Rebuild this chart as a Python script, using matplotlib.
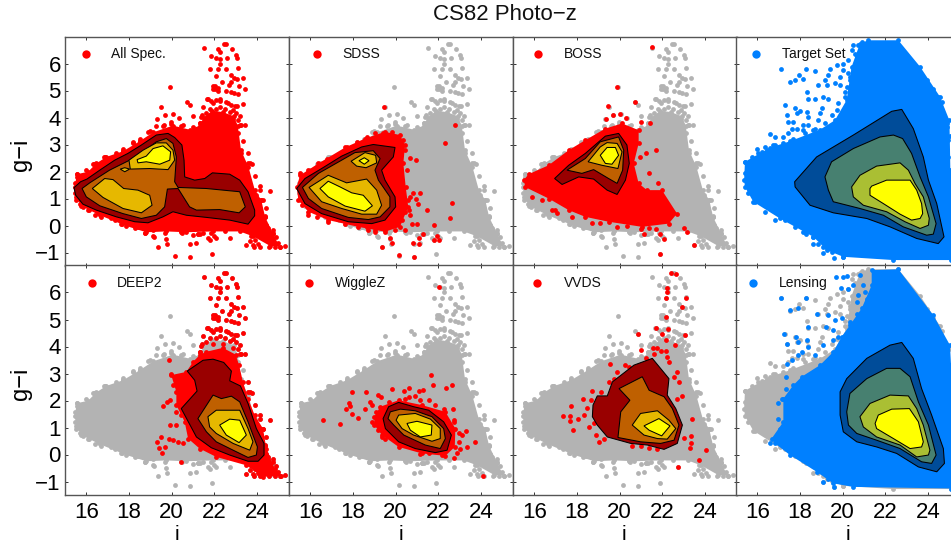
#!/usr/bin/env python
# -*- coding: utf-8 -*-

import matplotlib
matplotlib.use("Agg")
import matplotlib.pyplot as plt

plt.rcParams['font.family'] = ['Liberation Sans', 'DejaVu Sans']

# Outline of the full spectroscopic sample (i, g-i)
all_outline = [(15.45,1.43),(15.56,1.90),(16.08,1.99),(16.47,2.30),(16.94,2.54),(17.72,2.75),(18.5,3.12),
    (19.13,3.45),(20.06,3.70),(20.84,3.55),(21.31,3.70),(21.5,4.0),(21.9,4.25),(22.4,4.2),(22.9,4.05),(23.1,3.7),
    (23.25,2.79),(23.6,2.17),(23.9,1.31),(24.2,0.94),(24.38,0.32),(24.75,-0.30),(25.06,-0.79),(24.6,-0.75),
    (23.81,-0.40),(23.19,-0.22),(21.94,-0.22),(20.69,-0.25),(19.75,-0.22),(18.81,-0.25),(17.88,-0.02),
    (16.63,0.38),(15.84,0.69),(15.53,1.06)]

# Stragglers of the full sample
all_points = [(21.52,6.59),(22.44,6.74),(22.56,6.72),(22.83,6.52),(22.17,6.54),(22.27,6.43),(21.86,6.28),
    (22.06,6.22),(22.25,6.17),(22.61,6.19),(23.0,6.31),(23.06,6.19),(22.25,6.0),(21.78,5.78),(22.17,5.78),
    (22.53,5.78),(23.09,5.83),(22.09,5.53),(22.78,5.56),(22.92,5.48),(23.06,5.41),(23.33,5.48),(22.38,5.32),
    (22.78,5.32),(22.67,5.2),(23.16,5.16),(23.42,5.07),(21.94,5.16),(22.02,5.07),(22.17,5.11),(22.53,4.99),
    (22.8,4.95),(22.92,4.89),(23.09,4.86),(19.91,5.12),(20.73,4.58),(20.88,4.46),(19.48,4.38),(19.7,4.1),
    (20.05,4.12),(20.33,3.99),(21.02,4.05),(19.31,3.95),(23.33,4.49),(23.42,3.72),(23.58,2.67),(23.77,2.27),
    (24.14,1.47),(24.61,1.27),(24.75,-0.17),(24.91,-0.44),(24.56,-0.81),(25.06,-0.79),(23.5,-0.73),(23.66,-0.57),
    (23.84,-0.79),(24.13,-0.79),(19.34,-0.81),(19.75,-0.49),(19.8,-0.67),(20.14,-1.12),(20.86,-1.16),(21.91,-1.06),
    (20.84,-0.67),(21.16,-0.64),(19.16,-0.42),(18.73,-0.27),(20.45,-0.23),(21.31,-0.32),(22.72,-0.46),(22.06,-0.48),
    (21.78,-0.52),(21.0,-0.36),(17.67,0.07),(17.33,0.2),(16.7,0.32),(16.39,0.38),(16.13,0.57),(15.69,0.94),
    (15.56,1.80),(16.36,2.26),(16.86,2.54),(17.72,2.83),(18.19,3.06),(18.5,3.2),(18.89,3.47),(19.59,3.68),
    (19.98,3.75),(20.53,3.72),(21.31,3.78),(23.58,2.33),(23.97,1.12),(24.2,0.94),(24.36,0.32),(24.44,0.01),
    (23.97,-0.05),(23.81,-0.30),(24.44,-0.42),(24.13,-0.3),(19.75,-0.17),(19.13,-0.17),(18.42,-0.05)]

# Bumps along the rim of the full sample
all_edge = [(15.58,1.89),(15.48,1.58),(15.45,1.21),(15.53,0.96),(15.69,0.78),(16.0,2.07),(16.31,2.26),(16.83,2.53),(17.41,2.67),
    (17.72,2.75),(18.19,3.09),(18.5,3.12),(18.97,3.49),(19.28,3.68),(19.64,3.74),(19.98,3.83),(20.45,3.68),(21.0,3.65),(21.31,3.80),
    (21.42,4.11),(21.66,4.67),(21.86,4.6),(22.25,4.6),(22.64,4.54),(22.95,4.42),(23.19,4.05),(23.27,3.74),(23.11,3.43),(23.34,3.12),
    (23.27,2.69),(23.66,2.32),(23.89,1.83),(24.13,1.33),(24.28,0.96),(24.44,0.65),(24.36,0.35),(24.52,-0.09),(24.75,-0.27),(24.98,-0.64),
    (23.89,-0.52),(23.73,-0.40),(22.48,-0.21),(21.86,-0.27),(21.23,-0.33),(20.45,-0.21),(19.67,-0.27),(19.13,-0.4),(18.73,-0.27),
    (18.27,-0.09),(17.64,0.06),(17.17,0.28),(16.55,0.47),(16.08,0.59),(15.77,0.72),(21.94,5.04),(22.02,5.16),(22.17,4.98),
    (20.52,-0.15),(20.48,-0.27),(21.23,-0.33),(21.48,-0.27),(21.7,-0.46),(22.0,-0.4),(23.83,-0.73),(24.06,-0.7),(24.83,-0.79),
    (25.3,-0.75)]

# Dots of the shoulder below the plume
all_shoulder = [(21.7,4.67),(21.94,4.52),(22.09,4.64),(22.28,4.67),(22.56,4.58),(22.8,4.46),(23.06,4.42),(21.78,4.33),(22.25,4.4),
    (22.72,4.21),(23.03,4.15),(23.11,3.9),(21.63,4.15),(21.39,4.02),(21.94,4.09),(22.41,4.09),(22.88,3.96),(23.19,3.72),(21.47,4.4),
    (22.06,4.33),(22.48,4.33),(22.88,4.27)]

all_c1 = [(15.42,1.40),(15.73,1.62),(16.03,1.72),(16.63,2.05),(17.33,2.42),(17.95,2.67),(18.58,2.98),(19.28,3.35),
    (19.83,3.41),(20.14,3.26),(20.48,2.98),(20.58,2.42),(20.61,1.80),(21.08,1.68),(21.55,1.74),(21.91,1.95),
    (22.72,1.90),(23.19,1.68),(23.58,1.25),(23.89,0.57),(23.89,0.36),(23.58,0.05),(22.72,0.20),(21.63,0.30),
    (20.69,0.38),(20.06,0.51),(19.59,0.32),(18.89,0.10),(18.27,0.14),(17.41,0.32),(16.47,0.57),(15.84,0.79),(15.5,1.12)]
all_c2 = [(15.8,1.37),(16.16,1.58),(17.09,2.05),(18.03,2.42),(18.66,2.73),(19.28,3.10),(19.75,3.22),(20.06,3.04),
    (20.22,2.54),(20.14,1.62),(20.30,1.41),(21.63,1.37),(23.19,1.25),(23.45,0.69),(23.16,0.47),(22.25,0.59),
    (21.16,0.57),(20.84,0.69),(20.3,1.37),(19.8,1.35),(19.67,0.69),(19.28,0.38),(18.58,0.26),(17.72,0.44),(16.63,0.73),(16.0,1.06)]
all_c3a = [(16.28,1.37),(16.86,1.74),(17.25,1.70),(17.75,1.37),(18.42,1.31),(18.97,1.12),(19.08,0.75),(18.58,0.47),(17.72,0.63),(16.78,1.04)]
all_c3b = [(18.0,2.42),(18.66,2.79),(19.28,3.06),(19.75,3.06),(20.06,2.79),(20.14,2.42),(19.83,2.07),(18.97,2.11),(18.06,2.09)]
all_c3c = [(17.59,2.09),(17.8,2.14),(18.03,2.09),(17.8,1.99)]
all_c4 = [(18.38,2.44),(18.81,2.57),(19.13,2.85),(19.59,2.95),(19.95,2.73),(19.91,2.42),(19.44,2.27),(18.81,2.36),(18.42,2.32)]

sdss_outline = [(15.36,1.43),(15.52,1.86),(16.38,2.30),(17.63,2.89),(18.56,3.22),(19.5,3.47),(20.2,3.35),(20.44,2.98),
    (20.36,2.30),(20.47,1.43),(20.59,0.69),(20.2,-0.05),(19.5,-0.23),(18.25,-0.05),(16.84,0.2),(15.91,0.51),(15.44,0.94)]
sdss_points = [(19.47,4.38),(22.78,3.72),(22.33,3.04),(20.67,2.51),(20.94,2.42),(20.83,1.19),(21.14,1.19),(20.94,1.0),
    (21.06,0.81),(21.45,0.57),(22.63,0.84),(22.56,0.28),(20.59,0.94),(20.67,0.38),(20.75,0.07),(21.0,0.07),(21.78,0.01),
    (21.3,-0.30),(20.44,-0.17),(19.73,-0.48),(19.84,-0.63),(19.34,-0.81),(20.14,-1.11),(20.86,-1.16),(20.83,-0.64),
    (21.09,-0.48),(21.11,-0.67),(21.8,-0.52),(22.05,-0.52),(21.92,-0.40),(19.03,-0.23),(18.72,-0.17),(20.36,0.81),(20.44,0.51),
    (20.36,3.16),(20.44,2.79),(20.52,2.05),(20.31,1.68),(20.67,1.06),(20.63,0.57),(19.97,-0.17),(20.28,0.2),(15.52,1.93),(15.91,2.05),
    (16.77,2.48),(17.7,2.89),(18.17,3.1),(18.64,3.26),(19.03,3.41),(19.42,3.41),(19.81,3.47),(16.3,0.32),(16.84,0.14),(17.63,0.07),
    (18.64,-0.05),(19.03,-0.17),(19.5,-0.17),(15.59,0.75),(15.91,0.38)]
sdss_c1 = [(15.36,1.37),(15.75,1.74),(16.53,2.11),(17.47,2.57),(18.41,2.91),(18.95,3.0),(19.97,2.89),(19.89,2.54),(19.34,2.05),
    (19.5,1.68),(19.97,1.06),(20.0,0.69),(19.5,0.20),(18.88,0.07),(17.78,0.14),(16.53,0.44),(15.75,0.81)]
sdss_c2 = [(15.63,1.41),(16.38,1.93),(17.47,2.42),(18.09,2.70),(18.95,2.77),(19.27,2.48),(19.03,2.05),(19.19,1.68),(19.73,1.06),
    (19.73,0.69),(19.27,0.32),(18.72,0.22),(17.78,0.30),(16.53,0.63),(15.91,1.0)]
sdss_c3a = [(15.94,1.41),(16.84,1.86),(17.7,1.58),(18.64,1.72),(19.11,1.31),(19.34,0.75),(19.11,0.42),(18.41,0.42),(17.47,0.63),(16.53,0.88)]
sdss_c3b = [(17.91,2.38),(18.56,2.70),(19.06,2.60),(19.11,2.32),(18.61,2.14),(18.17,2.20)]
sdss_c4a = [(16.45,1.37),(16.84,1.64),(17.39,1.43),(17.94,1.21),(18.48,1.12),(18.91,0.73),(18.56,0.53),(17.63,0.72),(16.84,1.06)]
sdss_c4b = [(18.28,2.40),(18.53,2.51),(18.75,2.40),(18.53,2.27)]

boss_outline = [(15.5,1.68),(15.73,1.90),(16.67,2.23),(17.61,2.79),(18.39,3.16),(19.33,3.59),(20.11,3.78),(20.89,3.53),(20.89,3.04),
    (20.66,2.30),(20.89,1.56),(21.28,1.31),(21.98,1.31),(22.69,0.44),(22.3,0.07),(21.05,-0.05),(19.48,0.14),(18.39,0.32),
    (17.61,0.57),(16.67,1.0),(15.58,1.42)]
boss_points = [(21.5,6.60),(19.89,5.12),(20.72,4.59),(19.44,4.41),(19.69,4.10),(20.02,4.12),(20.31,3.99),(19.34,3.94),(21.44,3.78),
    (21.0,3.84),(21.7,2.81),(21.23,2.67),(20.97,2.54),(21.8,1.58),(21.36,1.93),(23.0,-0.11),(23.16,-0.23),(23.48,-0.73),
    (21.91,-1.07),(22.06,-0.51),(21.88,-0.3),(21.13,-0.3),(21.02,-0.14),(21.39,-0.11),(21.7,-0.14),(16.95,0.57),
    (15.89,1.06),(16.36,0.94),(16.83,0.57),(17.06,0.47),(17.77,0.32),(18.69,0.10),(19.08,0.10),(19.86,-0.05),(20.33,-0.02)]
boss_c1 = [(16.95,1.74),(17.61,2.23),(18.39,2.67),(19.33,3.31),(19.95,3.41),(20.34,2.98),(20.45,2.30),(20.27,1.68),(19.88,1.15),
    (19.41,1.31),(18.78,1.72),(18.08,1.80),(17.3,1.52)]
boss_c2 = [(17.53,2.05),(18.39,2.48),(19.09,3.10),(19.95,3.28),(20.19,2.79),(20.14,2.05),(19.88,1.56),(19.48,1.74),(18.78,2.07),(18.23,1.93)]
boss_c3 = [(18.52,2.36),(19.09,2.91),(19.41,3.07),(19.88,3.04),(20.11,2.73),(19.92,2.11),(19.17,2.23)]
boss_c4 = [(19.09,2.60),(19.41,2.89),(19.8,2.89),(19.95,2.60),(19.64,2.27),(19.33,2.30)]

target_outline = [(15.38,1.68),(15.42,2.36),(16.59,2.88),(17.53,3.12),(18.94,3.55),(19.64,3.9),(20.19,4.65),(20.42,5.88),(20.81,6.74),
    (21.2,6.86),(22.61,6.86),(23.63,5.88),(24.56,4.77),(25.0,3.90),(25.02,3.3),(25.05,2.0),(25.5,1.0),(25.5,-1.3),(25.08,-1.28),
    (22.38,-1.28),(20.03,-1.16),(19.25,-0.91),(18.63,-0.42),(17.06,0.26),(15.81,0.88),(15.42,1.43)]
target_points = [(17.11,5.81),(17.53,5.32),(17.77,5.38),(17.97,5.59),(18.16,5.44),(18.28,5.81),(18.7,5.72),(18.86,5.2),(19.17,5.38),
    (19.25,5.2),(19.41,5.78),(19.33,5.57),(19.72,5.94),(20.03,5.75),(19.64,5.26),(19.88,5.2),(20.19,5.14),(18.34,4.95),(18.39,4.70),
    (18.7,4.67),(19.09,4.77),(19.33,4.70),(17.3,4.48),(17.77,4.37),(18.0,4.23),(18.31,4.21),(19.02,4.37),(18.94,4.15),(17.38,4.09),
    (17.88,4.15),(17.45,3.84),(17.69,3.84),(18.39,4.02),(18.39,3.72),(18.16,3.72),(18.86,3.90),(17.61,3.59),(17.84,3.59),(18.16,3.53),
    (18.63,3.53),(17.45,3.41),(16.59,3.38),(16.83,3.26),(17.22,3.28),(15.97,2.85),(16.2,2.73),(16.44,2.79),(16.83,2.98),(15.58,2.32),
    (15.81,2.48),(15.73,1.93),(20.03,6.0),(20.27,6.12),(20.42,6.49),(20.58,6.37),(20.5,6.68),(20.27,5.63),(19.88,5.51),(20.11,4.95),
    (20.34,5.38),(18.59,-0.67),(18.86,-0.67),(19.09,-1.01),(19.25,-0.85),(19.61,-1.19),(18.16,-0.23),(18.28,-0.30),(24.64,4.58),
    (24.72,4.09),(24.88,3.65)]
target_edge = [(15.42,1.93),(15.44,2.36),(15.73,2.54),(16.05,2.67),(16.36,2.91),(16.75,2.98),(17.22,3.04),(17.69,3.22),(18.23,3.41),
    (18.7,3.59),(19.17,3.78),(19.48,4.09),(19.72,4.27),(19.8,4.52),(20.11,4.77),(20.34,5.01),(20.34,5.51),(20.5,5.88),(20.66,6.25),
    (20.73,6.68),(20.89,6.8),(15.58,1.19),(15.89,0.88),(16.36,0.51),(16.83,0.22),(17.3,0.2),(17.77,-0.05),(18.23,-0.23),(18.63,-0.42),
    (19.09,-0.79),(19.48,-0.98),(20.03,-1.16),(24.48,4.77),(24.25,5.07),(23.94,5.38),(24.64,4.27),(24.88,3.78),(24.95,3.16),(24.95,2.54),(25.03,2.05)]
target_c1 = [(17.75,1.62),(18.78,2.54),(20.5,3.35),(22.3,4.23),(22.77,4.30),(23.31,3.59),(23.78,2.54),(24.02,1.68),(24.41,0.81),
    (24.75,-0.42),(24.48,-0.67),(23.47,-0.48),(22.22,-0.05),(21.13,0.26),(19.56,0.47),(18.47,0.75),(17.77,1.43)]
target_c2 = [(19.17,1.80),(19.48,2.36),(20.5,2.85),(21.75,3.28),(22.38,3.35),(22.81,3.22),(23.23,2.67),(23.63,1.80),(24.02,1.06),
    (24.38,0.07),(24.25,-0.32),(23.94,-0.36),(22.84,-0.05),(21.91,0.38),(20.81,0.63),(19.56,0.88),(19.33,1.31)]
target_c3 = [(20.42,1.43),(20.81,1.86),(21.59,2.20),(22.69,2.32),(23.08,2.05),(23.39,1.56),(23.78,1.06),(24.06,0.26),(24.02,0.01),
    (23.63,-0.11),(22.92,0.14),(22.06,0.51),(20.97,0.75),(20.5,1.06)]
target_c4 = [(21.28,1.37),(21.36,1.46),(22.06,1.68),(23.16,1.68),(23.47,1.31),(23.7,0.81),(23.75,0.44),(23.63,0.26),(23.23,0.20),
    (22.69,0.42),(21.91,0.81),(21.28,1.12)]

deep2_outline = [(19.98,2.94),(20.69,3.06),(21.0,3.43),(21.31,3.68),(21.6,3.8),(22.4,3.95),(23.0,3.7),(23.16,3.31),
    (23.34,2.69),(23.58,2.07),(23.89,1.46),(24.28,0.96),(24.44,0.22),(24.83,-0.52),(25.14,-0.79),(24.28,-0.83),(23.5,-0.40),
    (22.09,-0.09),(21.31,0.22),(20.77,0.59),(20.61,1.21),(20.22,1.83),(20.22,2.32)]
deep2_points = [(19.88,3.49),(19.59,1.78),(19.78,1.93),(19.91,2.01),(19.94,1.09),(20.22,1.11),(19.88,0.57),(20.06,0.53),(20.3,0.47),
    (20.53,0.41),(19.48,0.65),(19.31,0.47),(19.41,0.25),(19.67,0.28),(19.56,0.07),(20.42,-0.27),(20.06,2.57),(20.38,2.69),(19.98,3.0),
    (20.22,1.58),(20.45,1.46)]
deep2_c1 = [(20.73,3.09),(21.47,3.49),(21.94,3.53),(22.44,3.41),(22.8,3.09),(22.72,2.73),(23.22,2.54),(23.58,1.89),(23.97,0.96),
    (24.33,0.41),(24.33,-0.02),(24.05,-0.25),(23.58,-0.25),(22.72,-0.02),(21.86,0.25),(21.16,0.65),(20.45,1.70),(21.19,2.35),(21.08,2.75)]
deep2_c2 = [(21.23,1.33),(21.94,2.20),(22.33,2.07),(22.8,2.16),(23.19,1.95),(23.58,1.21),(24.02,0.28),(23.97,-0.02),(23.58,-0.11),
    (22.88,0.16),(22.09,0.47),(21.63,0.84)]
deep2_c3 = [(21.7,1.40),(22.09,1.64),(23.19,1.64),(23.58,0.96),(23.81,0.47),(23.66,0.16),(22.88,0.41),(22.09,0.78),(21.78,1.02)]
deep2_c4 = [(22.25,1.09),(22.72,1.31),(23.19,1.27),(23.5,0.72),(23.16,0.44),(22.56,0.72)]

wigglez_outline = [(19.0,1.40),(19.28,1.77),(20.14,2.01),(21.23,1.83),(22.33,1.58),(22.8,0.96),(22.77,0.28),(22.33,-0.05),(21.23,0.04),
    (20.14,0.28),(19.36,0.72),(19.0,1.09)]
wigglez_points = [(22.03,6.21),(21.66,2.95),(21.75,2.57),(22.66,2.58),(22.38,2.48),(21.28,2.38),(21.11,2.35),(19.84,2.42),(20.38,2.35),
    (20.61,2.47),(20.64,2.14),(20.92,2.17),(21.55,2.01),(17.94,2.31),(18.61,2.33),(19.17,2.2),(19.33,2.14),(17.8,1.89),(17.88,1.79),
    (17.67,1.67),(18.55,1.68),(17.95,1.49),(18.22,1.36),(16.58,1.28),(17.38,1.14),(18.81,1.95),(18.89,1.83),(22.7,1.68),(22.73,1.27),
    (23.3,0.88),(23.7,0.48),(23.34,0.28),(23.11,0.72),(23.03,0.22),(22.88,0.04),(22.72,-0.12),(21.16,0.02),(19.36,0.65),(24.09,-0.79),
    (19.08,1.58),(18.89,1.21),(19.17,0.90),(19.52,0.59),(19.67,1.95),(20.45,2.07),(21.16,2.01),(21.86,1.83),(22.25,1.70),(22.73,1.21),
    (22.95,0.78),(22.95,0.47),(21.55,0.04),(22.17,-0.02)]
wigglez_c1 = [(19.41,1.33),(19.67,1.77),(20.14,1.93),(20.84,1.77),(21.55,1.64),(22.25,1.21),(22.61,0.72),(22.41,0.16),(21.86,0.07),
    (20.92,0.22),(20.14,0.47),(19.52,0.96)]
wigglez_c2 = [(19.64,1.33),(19.75,1.58),(20.22,1.68),(20.92,1.62),(21.7,1.40),(22.25,0.96),(22.33,0.59),(22.09,0.22),(21.39,0.35),
    (20.38,0.72),(19.91,1.09)]
wigglez_c3 = [(20.02,1.27),(20.14,1.46),(20.92,1.52),(21.63,1.31),(22.09,0.96),(22.09,0.59),(21.7,0.49),(20.84,0.72),(20.3,0.96)]
wigglez_c4 = [(20.53,1.15),(21.0,1.23),(21.7,1.09),(21.67,0.72),(21.16,0.65),(20.69,0.90)]

vvds_points = [(22.42,6.73),(22.64,6.67),(22.2,6.17),(22.23,6.02),(22.16,5.78),(23.11,5.78),(22.91,5.47),(22.16,5.10),(21.69,4.67),
    (22.27,4.64),(20.88,4.46),(22.0,4.46),(23.05,4.42),(22.61,4.07),(22.16,4.23),(21.58,3.93),(21.77,3.93),(21.92,3.83),(22.16,3.83),
    (21.63,3.74),(22.23,3.62),(21.02,3.86),(21.22,3.56),(19.55,3.35),(20.23,3.33),(20.44,3.25),(22.31,3.43),(22.7,3.06),(22.55,2.88),
    (22.78,2.69),(19.89,3.06),(19.73,2.81),(19.5,2.67),(18.72,2.35),(19.11,2.32),(18.3,2.04),(18.64,2.01),(17.73,1.78),(18.48,1.73),
    (17.36,1.42),(17.66,1.42),(17.67,1.23),(18.05,1.31),(18.33,1.46),(17.81,0.90),(18.56,1.02),(18.8,1.15),(18.88,0.72),(19.03,0.47),
    (22.94,2.17),(22.7,2.07),(23.38,1.30),(23.36,0.69),(23.33,0.41),(23.3,0.25),(23.02,0.62),(24.05,0.15),(23.7,-0.21),(22.72,-0.46),
    (20.59,0.32),(20.98,0.31),(21.38,0.25),(21.77,0.22),(19.27,0.59)]
vvds_c1 = [(18.75,1.83),(18.95,2.17),(19.42,2.17),(19.66,2.69),(20.67,3.31),(21.53,3.56),(22.31,2.81),(22.23,2.20),(22.63,1.70),
    (22.94,1.09),(22.7,0.41),(22.08,0.19),(21.3,0.35),(20.52,0.41),(19.42,0.65),(18.95,1.09),(18.72,1.40)]
vvds_c2 = [(19.97,2.44),(21.06,2.88),(21.38,2.38),(22.08,2.14),(22.47,1.70),(22.78,1.09),(22.55,0.53),(21.92,0.41),(20.98,0.47),
    (19.92,0.63),(20.05,1.58),(20.48,2.01)]
vvds_c3 = [(20.59,1.09),(20.98,1.52),(21.77,1.62),(22.31,1.27),(22.63,0.96),(22.23,0.57),(21.77,0.59),(21.14,0.72)]
vvds_c4 = [(21.14,1.06),(21.84,1.33),(22.36,1.06),(21.97,0.69),(21.38,0.90)]

lensing_outline = [(16.67,0.59),(17.22,1.21),(17.22,2.07),(17.69,2.57),(18.08,2.88),(18.94,3.31),(19.56,3.80),(19.95,4.36),(20.34,4.79),
    (20.89,5.41),(21.36,6.27),(21.36,6.83),(22.61,6.86),(24.25,5.16),(25.03,4.05),(25.08,3.31),(25.5,1.0),(25.5,-1.3),(25.08,-1.26),
    (20.5,-1.2),(19.56,-1.07),(18.78,-0.64),(17.53,-0.02),(16.83,0.41)]
lensing_points = [(19.69,6.56),(20.0,6.58),(20.19,6.62),(19.91,6.15),(20.27,6.12),(20.5,6.27),(20.81,6.64),(20.97,6.27),(17.11,5.81),
    (18.28,5.81),(17.53,5.35),(17.92,5.43),(18.78,5.22),(19.33,5.16),(19.64,4.98),(19.95,5.04),(20.66,5.22),(20.34,4.91),(18.39,4.73),
    (19.2,4.73),(17.27,4.46),(17.81,4.36),(18.31,4.23),(19.56,4.60),(19.8,4.36),(17.41,4.09),(17.92,4.17),(18.39,3.99),(18.08,3.80),
    (17.92,3.68),(17.61,3.49),(17.38,3.37),(18.7,3.70),(19.09,4.05),(19.56,4.23),(17.34,2.88),(17.34,2.44),(17.14,2.07),(16.98,1.89),
    (16.98,1.33),(17.06,0.96),(16.59,0.43),(19.06,-1.01),(19.61,-1.19),(19.33,-0.89),(18.7,-0.46),(18.47,-0.27),(20.73,5.9),(20.66,5.65),
    (21.05,6.02),(21.13,5.75)]
lensing_c1 = [(19.88,2.32),(20.19,2.81),(21.13,3.56),(22.22,4.05),(22.77,4.15),(23.31,3.56),(23.7,2.44),(24.17,1.46),(24.72,0.22),
    (24.77,-0.33),(24.41,-0.64),(23.55,-0.46),(22.53,0.04),(21.59,0.28),(20.66,0.47),(20.03,0.84),(19.88,1.46)]
lensing_c2 = [(20.19,1.58),(20.34,2.26),(21.13,2.81),(22.06,3.19),(22.69,3.19),(23.16,2.88),(23.55,1.95),(24.02,1.09),(24.38,-0.02),
    (24.17,-0.33),(23.7,-0.27),(22.69,0.22),(21.59,0.53),(20.66,0.78),(20.27,1.09)]
lensing_c3 = [(20.81,1.40),(21.28,1.89),(22.22,2.20),(23.08,2.17),(23.47,1.70),(23.78,1.09),(24.09,0.16),(24.02,-0.02),(23.47,-0.09),
    (22.69,0.35),(21.59,0.65),(20.97,1.02)]
lensing_c4 = [(21.52,1.15),(21.67,1.46),(22.3,1.68),(23.13,1.70),(23.55,1.21),(23.78,0.47),(23.7,0.28),(23.16,0.22),(22.38,0.59),(21.59,0.96)]

x_ticks = [16, 18, 20, 22, 24]
y_ticks = [-1, 0, 1, 2, 3, 4, 5, 6]

RED = '#ff0000'
BLUE = '#0080ff'
GREY = '#b3b3b3'
WARM = ['#990000', '#bf6000', '#e6b800', '#ffff00']
COOL = ['#004c99', '#478070', '#aabf33', '#ffff00']

W, H = 951.0, 545.0
fig = plt.figure(figsize=(W / 100, H / 100), dpi=100)


def new_axes(left, top, labelx, labely):
    ax = fig.add_axes([left / W, 1 - (top + 229.5) / H, 224 / W, 229.5 / H])
    ax.set_xlim(15, 25.5)
    ax.set_ylim(-1.5, 7)
    ax.set_xticks(x_ticks)
    ax.set_yticks(y_ticks)
    ax.tick_params(direction='in', top=True, right=True, length=2.2, width=0.7, color='#333333',
                   labelsize=16, labelbottom=labelx, labelleft=labely, pad=5)
    ax.tick_params(axis='x', pad=5)
    ax.tick_params(axis='y', pad=3)
    for s in ax.spines.values():
        s.set_linewidth(1.0)
        s.set_color('#555555')
    return ax


def cloud(ax, outline, points, color, z):
    xs, ys = zip(*outline)
    ax.fill(xs, ys, color=color, lw=0, zorder=z)
    px, py = zip(*(list(outline) + list(points)))
    ax.scatter(px, py, s=12, c=color, linewidths=0, zorder=z)


def contours(ax, levels, colors):
    for i, polys in enumerate(levels):
        for poly in polys:
            xs, ys = zip(*poly)
            ax.fill(xs, ys, facecolor=colors[i], edgecolor='black', lw=0.75, zorder=5 + i)


def key(ax, mx, tx, label, color):
    ax.scatter([mx], [6.37], s=36, c=color, linewidths=0, zorder=20)
    ax.text(tx, 6.37, label, fontsize=10, va='center', ha='left', color='#111111', zorder=21)


all_marks = all_points + all_edge + all_shoulder
target_marks = target_points + target_edge

# things in the plume stay red in DEEP2, the rest goes grey
deep2_plume = [p for p in all_marks if (p[0] > 21.3 and p[1] > 3.6) or p[0] > 23.4]

# top row
ax = new_axes(65, 36.5, False, True)
cloud(ax, all_outline, all_marks, RED, 1)
contours(ax, [[all_c1], [all_c2], [all_c3a, all_c3b, all_c3c], [all_c4]], WARM)
key(ax, 16.0, 17.17, 'All Spec.', RED)

ax = new_axes(289, 36.5, False, False)
cloud(ax, all_outline, all_marks, GREY, 1)
cloud(ax, sdss_outline, sdss_points, RED, 2)
contours(ax, [[sdss_c1], [sdss_c2], [sdss_c3a, sdss_c3b], [sdss_c4a, sdss_c4b]], WARM)
key(ax, 16.3, 17.5, 'SDSS', RED)

ax = new_axes(513, 36.5, False, False)
cloud(ax, all_outline, all_marks, GREY, 1)
cloud(ax, boss_outline, boss_points, RED, 2)
contours(ax, [[boss_c1], [boss_c2], [boss_c3], [boss_c4]], WARM)
key(ax, 16.16, 17.38, 'BOSS', RED)

ax = new_axes(736, 36.5, False, False)
cloud(ax, target_outline, target_marks, BLUE, 2)
contours(ax, [[target_c1], [target_c2], [target_c3], [target_c4]], COOL)
key(ax, 15.92, 17.14, 'Target Set', BLUE)

# bottom row
ax = new_axes(65, 265.5, True, True)
cloud(ax, all_outline, all_marks, GREY, 1)
cloud(ax, deep2_outline, deep2_points + deep2_plume, RED, 2)
contours(ax, [[deep2_c1], [deep2_c2], [deep2_c3], [deep2_c4]], WARM)
key(ax, 16.25, 17.45, 'DEEP2', RED)

ax = new_axes(289, 265.5, True, False)
cloud(ax, all_outline, all_marks, GREY, 1)
cloud(ax, wigglez_outline, wigglez_points, RED, 2)
contours(ax, [[wigglez_c1], [wigglez_c2], [wigglez_c3], [wigglez_c4]], WARM)
key(ax, 15.94, 17.14, 'WiggleZ', RED)

ax = new_axes(513, 265.5, True, False)
cloud(ax, all_outline, all_marks, GREY, 1)
px, py = zip(*vvds_points)
ax.scatter(px, py, s=12, c=RED, linewidths=0, zorder=2)
contours(ax, [[vvds_c1], [vvds_c2], [vvds_c3], [vvds_c4]], WARM)
key(ax, 16.14, 17.39, 'VVDS', RED)

ax = new_axes(736, 265.5, True, False)
cloud(ax, target_outline, target_marks, GREY, 1)
cloud(ax, lensing_outline, lensing_points, BLUE, 2)
contours(ax, [[lensing_c1], [lensing_c2], [lensing_c3], [lensing_c4]], COOL)
key(ax, 15.81, 17.02, 'Lensing', BLUE)

fig.text(505 / W, 1 - 14 / H, 'CS82 Photo\u2212z', fontsize=16, ha='center', va='center', color='#111111')
fig.text(21 / W, 1 - 155 / H, 'g\u2212i', fontsize=17, rotation=90, ha='center', va='center')
fig.text(21 / W, 1 - 384 / H, 'g\u2212i', fontsize=17, rotation=90, ha='center', va='center')
for xc in [177, 401, 624, 848]:
    fig.text(xc / W, 1 - 540 / H, 'i', fontsize=15, ha='center', va='baseline')

fig.savefig('out.png', dpi=100)
